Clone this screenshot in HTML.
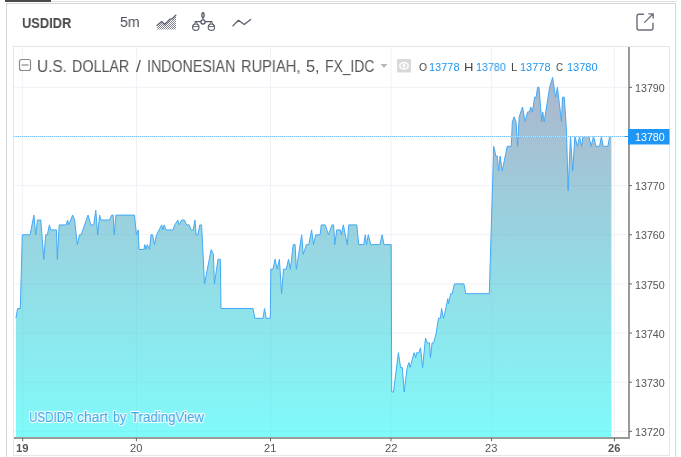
<!DOCTYPE html>
<html><head><meta charset="utf-8">
<style>
html,body{margin:0;padding:0;}
body{width:681px;height:457px;overflow:hidden;background:#fff;font-family:"Liberation Sans",sans-serif;position:relative;}
.abs{position:absolute;}
#frame{left:6px;top:3px;width:670px;height:470px;border:1px solid #d3d6da;box-sizing:border-box;}
#topline{left:5px;top:1px;width:672px;height:1px;background:#dedede;}
#topbar{left:5px;top:0;width:46px;height:2px;background:#4a4a4a;}
#pane{left:13px;top:46px;width:657px;height:410px;border:1px solid #e3e6ea;box-sizing:border-box;}
.t{position:absolute;white-space:nowrap;line-height:1;transform-origin:0 0;will-change:transform;}
#sym{left:23px;top:15px;font-size:14.4px;font-weight:bold;color:#4a4a4a;transform:scaleX(0.868);}
#ivl{left:120px;top:14.3px;font-size:15px;color:#4a4e5c;transform:scaleX(0.9);}
#title{left:37.2px;top:58px;font-size:15.5px;color:#555;transform:scaleX(0.966);}
.lg{top:61.5px;font-size:10.8px;color:#444;}
.lv{top:61.5px;font-size:10.8px;color:#1e96f0;}
.pl{left:636px;font-size:11px;color:#555;}
.tl{top:442px;font-size:11px;color:#555;}
</style></head><body>
<div class="abs" id="frame"></div>
<div class="abs" id="topline"></div>
<div class="abs" id="topbar"></div>
<div class="abs" id="pane"></div>

<svg class="abs" style="left:0;top:0" width="681" height="457" viewBox="0 0 681 457">
<defs>
<linearGradient id="g" x1="0" y1="47" x2="0" y2="437" gradientUnits="userSpaceOnUse">
<stop offset="0" stop-color="#606090" stop-opacity="0.5"/>
<stop offset="1" stop-color="#01F6F5" stop-opacity="0.5"/>
</linearGradient>
<pattern id="dots" width="2" height="2" patternUnits="userSpaceOnUse"><rect x="0" y="0" width="1" height="1" fill="#7d818c"/><rect x="1" y="1" width="1" height="1" fill="#7d818c"/></pattern>
</defs>
<!-- grid -->
<path d="M14 431.35H627M14 382.21H627M14 333.06H627M14 283.92H627M14 234.78H627M14 185.64H627M14 136.49H627M14 87.35H627" stroke="#eef2f8" stroke-width="1"/>
<path d="M22.7 47V437M136.4 47V437M270.5 47V437M391 47V437M491.6 47V437M614.4 47V437" stroke="#eef2f8" stroke-width="1"/>
<path d="M15.9 318.3 L17.6 308.5 L20.3 308.5 L22.3 234.8 L30.1 234.8 L33.9 215.1 L35.7 234.8 L37.5 220.0 L40.8 220.0 L43.8 259.3 L45.7 234.8 L47.4 234.8 L49.4 224.9 L50.7 229.9 L56.5 229.9 L57.3 259.3 L59.2 224.9 L66.2 224.9 L67.6 220.0 L68.7 224.9 L72.7 215.1 L74.6 220.0 L77.3 244.6 L79.5 234.8 L81.2 234.8 L88.0 215.1 L90.8 224.9 L93.7 224.9 L95.8 210.2 L97.7 234.8 L99.6 215.1 L100.7 220.0 L109.5 220.0 L111.7 215.1 L113.2 215.1 L114.2 234.8 L115.9 215.1 L134.5 215.1 L136.4 234.8 L138.2 229.9 L139.1 249.5 L143.8 249.5 L144.9 244.6 L145.8 249.5 L147.3 244.6 L149.5 249.5 L151.0 234.8 L152.6 234.8 L154.5 244.6 L156.5 234.8 L161.7 224.9 L162.8 229.9 L164.2 224.9 L166.1 229.9 L173.0 229.9 L174.9 224.9 L177.8 220.0 L179.4 224.9 L181.6 220.0 L184.4 220.0 L186.6 224.9 L189.1 224.9 L191.0 229.9 L193.2 229.9 L195.0 220.0 L196.2 234.8 L197.9 234.8 L199.8 224.9 L201.6 224.9 L204.5 283.9 L211.2 249.5 L213.4 254.4 L214.4 283.9 L218.0 259.3 L220.3 259.3 L221.0 308.5 L253.0 308.5 L254.8 318.3 L263.0 318.3 L264.5 308.5 L266.2 318.3 L270.3 318.3 L270.8 269.2 L273.0 269.2 L275.0 259.3 L277.2 269.2 L279.4 259.3 L281.6 293.7 L283.5 269.2 L286.3 269.2 L288.5 259.3 L290.4 269.2 L293.2 244.6 L295.1 244.6 L296.3 269.2 L301.7 234.8 L303.2 254.4 L306.4 244.6 L308.8 244.6 L311.6 229.9 L313.5 244.6 L315.7 234.8 L320.1 234.8 L321.3 224.9 L325.2 224.9 L328.5 234.8 L331.9 224.9 L333.6 224.9 L334.8 244.6 L336.7 229.9 L340.4 229.9 L341.4 234.8 L343.3 224.9 L347.3 244.6 L348.7 224.9 L356.8 224.9 L358.7 244.6 L363.7 244.6 L365.3 234.8 L366.5 244.6 L368.3 234.8 L370.8 244.6 L379.9 244.6 L382.1 234.8 L384.0 244.6 L391.2 244.6 L391.7 392.0 L393.5 392.0 L398.4 352.7 L400.6 367.5 L402.3 367.5 L404.2 392.0 L407.2 367.5 L408.9 362.5 L410.1 367.5 L414.1 352.7 L415.7 357.6 L416.7 352.7 L418.9 352.7 L420.5 347.8 L422.6 367.5 L425.5 338.0 L427.3 342.9 L429.5 342.9 L430.4 357.6 L432.1 342.9 L433.6 342.9 L436.2 333.1 L438.5 318.3 L440.4 318.3 L441.6 308.5 L443.4 318.3 L444.8 313.4 L447.8 298.7 L448.5 303.6 L450.7 293.7 L452.2 293.7 L454.4 283.9 L463.9 283.9 L465.8 293.7 L489.3 293.7 L493.7 146.3 L495.9 156.1 L497.3 156.1 L498.5 170.9 L500.1 156.1 L502.3 170.9 L507.2 146.3 L511.3 146.3 L512.3 121.7 L514.1 116.8 L516.0 121.7 L517.6 146.3 L519.2 116.8 L522.5 107.0 L525.1 121.7 L527.6 111.9 L529.5 111.9 L530.7 107.0 L532.4 111.9 L534.6 97.2 L536.1 97.2 L537.6 87.3 L539.0 87.3 L541.7 121.7 L542.7 111.9 L544.2 121.7 L549.6 87.3 L552.6 77.5 L555.6 97.2 L557.4 87.3 L561.5 121.7 L562.5 97.2 L564.3 97.2 L566.5 131.6 L568.1 190.5 L570.5 136.5 L572.7 170.9 L574.9 136.5 L577.5 146.3 L579.5 136.5 L581.6 146.3 L583.0 136.5 L589.0 136.5 L591.1 146.3 L593.5 136.5 L596.0 146.3 L599.6 146.3 L601.4 136.5 L603.1 146.3 L607.9 146.3 L609.6 136.5 L611.4 136.5 L611.4 437 L15.9 437 Z" fill="url(#g)"/>
<path d="M15.9 318.3 L17.6 308.5 L20.3 308.5 L22.3 234.8 L30.1 234.8 L33.9 215.1 L35.7 234.8 L37.5 220.0 L40.8 220.0 L43.8 259.3 L45.7 234.8 L47.4 234.8 L49.4 224.9 L50.7 229.9 L56.5 229.9 L57.3 259.3 L59.2 224.9 L66.2 224.9 L67.6 220.0 L68.7 224.9 L72.7 215.1 L74.6 220.0 L77.3 244.6 L79.5 234.8 L81.2 234.8 L88.0 215.1 L90.8 224.9 L93.7 224.9 L95.8 210.2 L97.7 234.8 L99.6 215.1 L100.7 220.0 L109.5 220.0 L111.7 215.1 L113.2 215.1 L114.2 234.8 L115.9 215.1 L134.5 215.1 L136.4 234.8 L138.2 229.9 L139.1 249.5 L143.8 249.5 L144.9 244.6 L145.8 249.5 L147.3 244.6 L149.5 249.5 L151.0 234.8 L152.6 234.8 L154.5 244.6 L156.5 234.8 L161.7 224.9 L162.8 229.9 L164.2 224.9 L166.1 229.9 L173.0 229.9 L174.9 224.9 L177.8 220.0 L179.4 224.9 L181.6 220.0 L184.4 220.0 L186.6 224.9 L189.1 224.9 L191.0 229.9 L193.2 229.9 L195.0 220.0 L196.2 234.8 L197.9 234.8 L199.8 224.9 L201.6 224.9 L204.5 283.9 L211.2 249.5 L213.4 254.4 L214.4 283.9 L218.0 259.3 L220.3 259.3 L221.0 308.5 L253.0 308.5 L254.8 318.3 L263.0 318.3 L264.5 308.5 L266.2 318.3 L270.3 318.3 L270.8 269.2 L273.0 269.2 L275.0 259.3 L277.2 269.2 L279.4 259.3 L281.6 293.7 L283.5 269.2 L286.3 269.2 L288.5 259.3 L290.4 269.2 L293.2 244.6 L295.1 244.6 L296.3 269.2 L301.7 234.8 L303.2 254.4 L306.4 244.6 L308.8 244.6 L311.6 229.9 L313.5 244.6 L315.7 234.8 L320.1 234.8 L321.3 224.9 L325.2 224.9 L328.5 234.8 L331.9 224.9 L333.6 224.9 L334.8 244.6 L336.7 229.9 L340.4 229.9 L341.4 234.8 L343.3 224.9 L347.3 244.6 L348.7 224.9 L356.8 224.9 L358.7 244.6 L363.7 244.6 L365.3 234.8 L366.5 244.6 L368.3 234.8 L370.8 244.6 L379.9 244.6 L382.1 234.8 L384.0 244.6 L391.2 244.6 L391.7 392.0 L393.5 392.0 L398.4 352.7 L400.6 367.5 L402.3 367.5 L404.2 392.0 L407.2 367.5 L408.9 362.5 L410.1 367.5 L414.1 352.7 L415.7 357.6 L416.7 352.7 L418.9 352.7 L420.5 347.8 L422.6 367.5 L425.5 338.0 L427.3 342.9 L429.5 342.9 L430.4 357.6 L432.1 342.9 L433.6 342.9 L436.2 333.1 L438.5 318.3 L440.4 318.3 L441.6 308.5 L443.4 318.3 L444.8 313.4 L447.8 298.7 L448.5 303.6 L450.7 293.7 L452.2 293.7 L454.4 283.9 L463.9 283.9 L465.8 293.7 L489.3 293.7 L493.7 146.3 L495.9 156.1 L497.3 156.1 L498.5 170.9 L500.1 156.1 L502.3 170.9 L507.2 146.3 L511.3 146.3 L512.3 121.7 L514.1 116.8 L516.0 121.7 L517.6 146.3 L519.2 116.8 L522.5 107.0 L525.1 121.7 L527.6 111.9 L529.5 111.9 L530.7 107.0 L532.4 111.9 L534.6 97.2 L536.1 97.2 L537.6 87.3 L539.0 87.3 L541.7 121.7 L542.7 111.9 L544.2 121.7 L549.6 87.3 L552.6 77.5 L555.6 97.2 L557.4 87.3 L561.5 121.7 L562.5 97.2 L564.3 97.2 L566.5 131.6 L568.1 190.5 L570.5 136.5 L572.7 170.9 L574.9 136.5 L577.5 146.3 L579.5 136.5 L581.6 146.3 L583.0 136.5 L589.0 136.5 L591.1 146.3 L593.5 136.5 L596.0 146.3 L599.6 146.3 L601.4 136.5 L603.1 146.3 L607.9 146.3 L609.6 136.5 L611.4 136.5" fill="none" stroke="#44a9f6" stroke-width="1" stroke-linejoin="round"/>
<!-- price line -->
<path d="M14 136.5H628" stroke="#c4e2fc" stroke-width="1" shape-rendering="crispEdges"/><path d="M14 136.5H628" stroke="#7cc3fb" stroke-width="1" stroke-dasharray="1 1" shape-rendering="crispEdges"/>
<!-- axes -->
<path d="M628 46.5V438.5" stroke="#9a9a9a" stroke-width="2" shape-rendering="crispEdges" transform="translate(1,0)"/>
<path d="M14 437.5H630" stroke="#9a9a9a" stroke-width="2" shape-rendering="crispEdges" transform="translate(0,0.5)"/>
<path d="M629 431.35H632M629 382.21H632M629 333.06H632M629 283.92H632M629 234.78H632M629 185.64H632M629 87.35H632" stroke="#666" stroke-width="1"/>
<path d="M22.7 438V441.3M136.4 438V441.3M270.5 438V441.3M391 438V441.3M491.6 438V441.3M614.4 438V441.3" stroke="#666" stroke-width="1"/>
<!-- price label -->
<rect x="628" y="129" width="41.5" height="15.5" fill="#1e96f5"/>
<path d="M625 136.5H632" stroke="#1e96f5" stroke-width="1" shape-rendering="crispEdges"/>

<!-- collapse box -->
<rect x="19.5" y="59.5" width="11" height="11" rx="2" fill="#fff" stroke="#8a8a8a" stroke-width="1.2"/>
<path d="M21.5 65H28.5" stroke="#8a8a8a" stroke-width="1.2"/>
<!-- dropdown arrow -->
<path d="M380.5 64H387.5L384 68Z" fill="#b8b8b8"/>
<!-- eye -->
<rect x="397" y="59" width="14" height="13.5" fill="#d9d9d9"/>
<ellipse cx="404" cy="65.8" rx="4.2" ry="3.3" fill="none" stroke="#fff" stroke-width="1.5"/>
<circle cx="404" cy="65.8" r="1.7" fill="#fff"/>

<!-- toolbar icons -->
<g fill="none" stroke="#5a5e6c" stroke-width="1.3" stroke-linecap="round" stroke-linejoin="round">
<path d="M157 25.6L161.7 21.5L164.6 24.5L169.9 19.2H171.7L175.8 15.3"/>
<path d="M232.9 25.9L238.5 20.3L244.3 24.5L250.6 19.4"/>
<!-- scales -->
<ellipse cx="203" cy="15.2" rx="1.1" ry="2.4" stroke-width="1.4"/><path d="M203 17.6V19.8" stroke-width="1"/>
<circle cx="203" cy="21.9" r="2.1" stroke-width="1.3"/>
<path d="M195 21.6H200.8M205.2 21.6H212" stroke-width="1.2"/>
<circle cx="195.8" cy="27.2" r="3.2" stroke-width="1.1"/>
<circle cx="211.4" cy="27.2" r="3.2" stroke-width="1.1"/>
<path d="M192.8 26.6H198.8M208.4 26.6H214.4" stroke-width="0.9"/>
<path d="M193.2 25.6L195.8 21.8L198.4 25.6M208.8 25.6L211.4 21.8L214 25.6" stroke-width="0.9"/>
<!-- popout -->
<path d="M643.5 14.2H639a2 2 0 0 0 -2 2V28a2 2 0 0 0 2 2H651a2 2 0 0 0 2 -2V23.2" stroke="#6a6e7a" stroke-width="1.4"/>
<path d="M644.6 22.4L653 14M648.8 13.8H653.2V18.2" stroke="#6a6e7a" stroke-width="1.3"/>
</g>
<path d="M157 26.5L161.7 22.5L164.6 25.5L169.9 20.2H171.7L176 16.3V29.5H157Z" fill="url(#dots)"/>
</svg>

<div class="t" style="left:22.14px;top:14.7px;font-size:15px;font-weight:bold;color:#4a4a4a;transform:scaleX(0.8569);">USDIDR</div>
<div class="t" style="left:119.89px;top:14.3px;font-size:15px;color:#4a4e5c;transform:scaleX(0.9474);">5m</div>
<div class="t" style="left:36.68px;top:58.8px;font-size:15.8px;color:#555;transform:scaleX(0.9750);">U.S.</div>
<div class="t" style="left:72.47px;top:58.8px;font-size:15.8px;color:#555;transform:scaleX(0.9061);">DOLLAR</div>
<div class="t" style="left:135.70px;top:58.8px;font-size:15.8px;color:#555;transform:scaleX(1.1294);">/</div>
<div class="t" style="left:147.45px;top:58.8px;font-size:15.8px;color:#555;transform:scaleX(0.8984);">INDONESIAN</div>
<div class="t" style="left:240.84px;top:58.8px;font-size:15.8px;color:#555;transform:scaleX(0.9268);">RUPIAH,</div>
<div class="t" style="left:305.92px;top:58.8px;font-size:15.8px;color:#555;transform:scaleX(1.0364);">5,</div>
<div class="t" style="left:325.10px;top:58.8px;font-size:15.8px;color:#555;transform:scaleX(0.8793);">FX_IDC</div>
<div class="t" style="left:418.53px;top:61.6px;font-size:11px;color:#444;transform:scaleX(0.9333);">O</div>
<div class="t" style="left:464.32px;top:61.6px;font-size:11px;color:#444;transform:scaleX(1.1833);">H</div>
<div class="t" style="left:511.37px;top:61.6px;font-size:11px;color:#444;transform:scaleX(1.0316);">L</div>
<div class="t" style="left:556.46px;top:61.6px;font-size:11px;color:#444;transform:scaleX(0.8857);">C</div>
<div class="t" style="left:429.16px;top:61.6px;font-size:11px;color:#1e96f0;transform:scaleX(0.9864);">13778</div>
<div class="t" style="left:476.27px;top:61.6px;font-size:11px;color:#1e96f0;transform:scaleX(0.9763);">13780</div>
<div class="t" style="left:520.46px;top:61.6px;font-size:11px;color:#1e96f0;transform:scaleX(0.9864);">13778</div>
<div class="t" style="left:566.76px;top:61.6px;font-size:11px;color:#1e96f0;transform:scaleX(0.9864);">13780</div>
<div class="t" style="left:635.34px;top:427.02px;font-size:10.6px;color:#555;transform:scaleX(1.0088);">13720</div>
<div class="t" style="left:635.34px;top:377.88px;font-size:10.6px;color:#555;transform:scaleX(1.0088);">13730</div>
<div class="t" style="left:635.34px;top:328.74px;font-size:10.6px;color:#555;transform:scaleX(1.0088);">13740</div>
<div class="t" style="left:635.34px;top:279.6px;font-size:10.6px;color:#555;transform:scaleX(1.0088);">13750</div>
<div class="t" style="left:635.34px;top:230.45px;font-size:10.6px;color:#555;transform:scaleX(1.0088);">13760</div>
<div class="t" style="left:635.34px;top:181.31px;font-size:10.6px;color:#555;transform:scaleX(1.0088);">13770</div>
<div class="t" style="left:635.34px;top:132.17px;font-size:10.6px;color:#fff;transform:scaleX(1.0088);">13780</div>
<div class="t" style="left:635.34px;top:83.02px;font-size:10.6px;color:#555;transform:scaleX(1.0088);">13790</div>
<div class="t" style="left:16.20px;top:443.42px;font-size:10.7px;font-weight:bold;color:#555;transform:scaleX(1.0605);">19</div>
<div class="t" style="left:130.38px;top:443.42px;font-size:10.7px;color:#555;transform:scaleX(1.0364);">20</div>
<div class="t" style="left:263.58px;top:443.42px;font-size:10.7px;color:#555;transform:scaleX(1.0364);">21</div>
<div class="t" style="left:384.77px;top:443.42px;font-size:10.7px;color:#555;transform:scaleX(1.0605);">22</div>
<div class="t" style="left:485.08px;top:443.42px;font-size:10.7px;color:#555;transform:scaleX(1.0364);">23</div>
<div class="t" style="left:608.38px;top:443.42px;font-size:10.7px;font-weight:bold;color:#555;transform:scaleX(1.0364);">26</div>
<div class="t" style="left:28.87px;top:409.9px;font-size:14px;color:#41abea;transform:scaleX(0.8308);-webkit-text-stroke:0.15px #41abea;text-shadow:1px 0 0 #fff,-1px 0 0 #fff,0 1px 0 #fff,0 -1px 0 #fff,1px 1px 0 rgba(255,255,255,.6),-1px -1px 0 rgba(255,255,255,.6),1px -1px 0 rgba(255,255,255,.6),-1px 1px 0 rgba(255,255,255,.6),0 0 3px #fff">USDIDR</div>
<div class="t" style="left:76.80px;top:409.9px;font-size:14px;color:#41abea;transform:scaleX(0.9902);-webkit-text-stroke:0.15px #41abea;text-shadow:1px 0 0 #fff,-1px 0 0 #fff,0 1px 0 #fff,0 -1px 0 #fff,1px 1px 0 rgba(255,255,255,.6),-1px -1px 0 rgba(255,255,255,.6),1px -1px 0 rgba(255,255,255,.6),-1px 1px 0 rgba(255,255,255,.6),0 0 3px #fff">chart</div>
<div class="t" style="left:112.51px;top:409.9px;font-size:14px;color:#41abea;transform:scaleX(0.8945);-webkit-text-stroke:0.15px #41abea;text-shadow:1px 0 0 #fff,-1px 0 0 #fff,0 1px 0 #fff,0 -1px 0 #fff,1px 1px 0 rgba(255,255,255,.6),-1px -1px 0 rgba(255,255,255,.6),1px -1px 0 rgba(255,255,255,.6),-1px 1px 0 rgba(255,255,255,.6),0 0 3px #fff">by</div>
<div class="t" style="left:130.76px;top:409.9px;font-size:14px;color:#41abea;transform:scaleX(0.9459);-webkit-text-stroke:0.15px #41abea;text-shadow:1px 0 0 #fff,-1px 0 0 #fff,0 1px 0 #fff,0 -1px 0 #fff,1px 1px 0 rgba(255,255,255,.6),-1px -1px 0 rgba(255,255,255,.6),1px -1px 0 rgba(255,255,255,.6),-1px 1px 0 rgba(255,255,255,.6),0 0 3px #fff">TradingView</div>
</body></html>
